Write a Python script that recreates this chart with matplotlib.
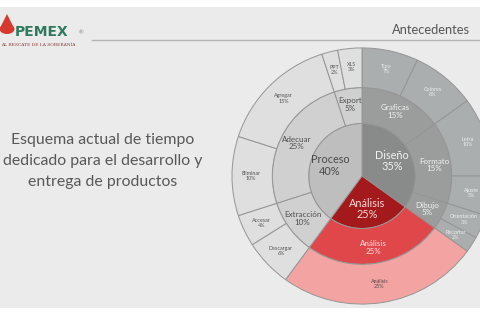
import numpy as np
import matplotlib
matplotlib.use("Agg")
import matplotlib.pyplot as plt
from matplotlib.patches import Rectangle, Circle, Polygon

# ---------------- data ----------------
inner_labels = ['Diseño', 'Análisis', 'Proceso']
inner_values = [35, 25, 40]

middle_labels = ['Graficas', 'Formato', 'Dibujo', 'Análisis', 'Extracción', 'Adecuar', 'Export']
middle_values = [15, 15, 5, 25, 10, 25, 5]
middle_parent = ['Diseño', 'Diseño', 'Diseño', 'Análisis', 'Proceso', 'Proceso', 'Proceso']

outer_labels = ['Tipo', 'Colores', 'Letra', 'Ajuste', 'Orientación', 'Recortar', 'Análisis',
                'Descargar', 'Accesar', 'Eliminar', 'Agregar', 'PPT', 'XLS']
outer_values = [7, 8, 10, 5, 3, 2, 25, 6, 4, 10, 15, 2, 3]
outer_parent = ['Diseño'] * 6 + ['Análisis'] + ['Proceso'] * 6

title_text = "Esquema actual de tiempo\ndedicado para el desarrollo y\nentrega de productos"
header_text = "Antecedentes"

# ---------------- style ----------------
plt.rcParams['font.family'] = ['Lato', 'DejaVu Sans']

fill = {
    'inner':  {'Proceso': '#bebebe', 'Diseño': '#898a8a', 'Análisis': '#a41a1c'},
    'middle': {'Proceso': '#d0d0d0', 'Diseño': '#9b9d9d', 'Análisis': '#e0474a'},
    'outer':  {'Proceso': '#dfdfdf', 'Diseño': '#abaeae', 'Análisis': '#f4a3a3'},
}
txt = {
    'inner':  {'Proceso': '#4a4a4a', 'Diseño': '#f2f2f2', 'Análisis': '#f8d8d8'},
    'middle': {'Proceso': '#4f4f4f', 'Diseño': '#f2f2f2', 'Análisis': '#fde6e6'},
    'outer':  {'Proceso': '#555555', 'Diseño': '#eeeeee', 'Análisis': '#5a4848'},
}
R1, R2, R3 = 0.41, 0.69, 1.0
edge = dict(edgecolor='#959595', linewidth=0.7)

fig = plt.figure(figsize=(4.8, 3.2), dpi=100)
fig.patch.set_facecolor('white')
fig.add_artist(Rectangle((0, 12 / 320), 1, 301 / 320, transform=fig.transFigure,
                         facecolor='#ebebeb', edgecolor='none', zorder=-10))

# header
fig.add_artist(plt.Line2D([92 / 480, 1], [1 - 40 / 320] * 2, transform=fig.transFigure,
                          color='#b4b4b4', lw=1.0))
fig.text(431 / 480, 1 - 30 / 320, header_text, ha='center', va='center',
         fontsize=9.3, color='#555555')
# logo
fig.add_artist(Circle((7 / 480, 1 - 29 / 320), 7.5 / 480, transform=fig.transFigure,
                      facecolor='#d63a2f', edgecolor='none'))
fig.add_artist(Polygon([(1 / 480, 1 - 26 / 320), (13 / 480, 1 - 26 / 320), (7 / 480, 1 - 14 / 320)],
                       closed=True, transform=fig.transFigure, facecolor='#d63a2f', edgecolor='none'))
fig.text(15 / 480, 1 - 32 / 320, "PEMEX", ha='left', va='center', fontsize=10,
         fontweight='bold', color='#2f7a5e', family=['DejaVu Sans'])
fig.text(79 / 480, 1 - 33 / 320, "®", ha='left', va='center', fontsize=4, color='#888888')
fig.text(1 / 480, 1 - 45 / 320, "AL RESCATE DE LA SOBERANÍA", ha='left', va='center',
         fontsize=3.2, color='#8a3a34', family=['DejaVu Serif'])

# left text
fig.text(103 / 480, 1 - 161 / 320, title_text, ha='center', va='center',
         fontsize=11.4, color='#585858', linespacing=1.68)

# sunburst
ax = fig.add_axes([193 / 480, -22.5 / 320, 338 / 480, 333 / 320])
ax.axis('off')

rings = [
    ('inner', inner_labels, inner_values, inner_labels, R1, None, 0.26, 7.8),
    ('middle', middle_labels, middle_values, middle_parent, R2, R2 - R1, 0.565, 5.8),
    ('outer', outer_labels, outer_values, outer_parent, R3, R3 - R2, 0.855, 3.9),
]
for ring, labels, values, parents, radius, width, lr, fs in rings:
    wp = dict(edge)
    if width is not None:
        wp['width'] = width
    wedges, _ = ax.pie(values, radius=radius, startangle=90, counterclock=False,
                       colors=[fill[ring][p] for p in parents], wedgeprops=wp)
    for w, lab, val, p in zip(wedges, labels, values, parents):
        a = np.deg2rad((w.theta1 + w.theta2) / 2)
        ax.text(lr * np.cos(a), lr * np.sin(a), f"{lab}\n{val}%", ha='center', va='center',
                fontsize=fs, color=txt[ring][p], linespacing=1.05)

ax.set_aspect('auto')
ax.set_xlim(-1.3, 1.3)
ax.set_ylim(-1.3, 1.3)

fig.savefig('out.png', dpi=100, facecolor=fig.get_facecolor())
